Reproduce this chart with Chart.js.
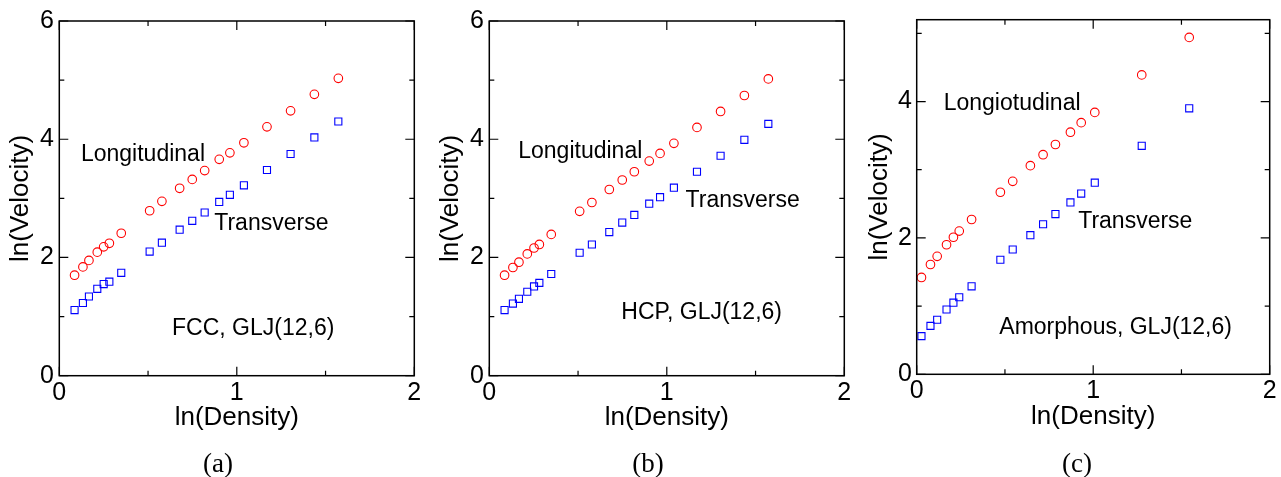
<!DOCTYPE html>
<html>
<head>
<meta charset="utf-8">
<script src="https://cdn.jsdelivr.net/npm/chart.js@4.4.1/dist/chart.umd.min.js"></script>
<style>
  body { margin: 0; background: #fff; overflow: hidden; }
  #wrap { position: relative; width: 1281px; height: 477px; }
  canvas { position: absolute; top: 0; }
  .caption { position: absolute; top: 447px; width: 80px; margin-left: -40px; text-align: center;
             font-family: "Liberation Serif", "DejaVu Serif", serif; font-size: 27px; line-height: 32px; color: #000; }
</style>
</head>
<body>
<div id="wrap">
  <canvas id="panelA" width="430" height="477" style="left:0px"></canvas>
  <canvas id="panelB" width="430" height="477" style="left:430px"></canvas>
  <canvas id="panelC" width="421" height="477" style="left:860px"></canvas>
  <div class="caption" style="left:218px">(a)</div>
  <div class="caption" style="left:648px">(b)</div>
  <div class="caption" style="left:1077px">(c)</div>
</div>
<script>
// ln(density) vs ln(velocity), FCC crystal
var densityA = [0.086, 0.133, 0.167, 0.214, 0.250, 0.282, 0.349, 0.509, 0.578, 0.678, 0.749, 0.819, 0.901, 0.961, 1.040, 1.170, 1.303, 1.437, 1.572];
var longitudinalA = [1.70, 1.84, 1.95, 2.09, 2.18, 2.24, 2.41, 2.79, 2.95, 3.17, 3.32, 3.47, 3.66, 3.77, 3.94, 4.21, 4.48, 4.76, 5.03];
var transverseA = [1.11, 1.23, 1.34, 1.47, 1.55, 1.59, 1.74, 2.10, 2.25, 2.47, 2.62, 2.76, 2.94, 3.06, 3.22, 3.48, 3.75, 4.03, 4.30];

// HCP crystal
var densityB = [0.086, 0.133, 0.167, 0.214, 0.252, 0.282, 0.349, 0.509, 0.578, 0.676, 0.749, 0.817, 0.901, 0.962, 1.040, 1.170, 1.303, 1.437, 1.572];
var longitudinalB = [1.70, 1.83, 1.92, 2.06, 2.16, 2.22, 2.39, 2.78, 2.93, 3.15, 3.31, 3.45, 3.63, 3.76, 3.93, 4.20, 4.47, 4.74, 5.02];
var transverseB = [1.11, 1.22, 1.30, 1.42, 1.51, 1.57, 1.72, 2.08, 2.22, 2.43, 2.59, 2.72, 2.91, 3.02, 3.18, 3.45, 3.72, 3.99, 4.26];

// amorphous solid
var densityC = [0.027, 0.078, 0.116, 0.169, 0.208, 0.241, 0.311, 0.474, 0.544, 0.644, 0.716, 0.786, 0.871, 0.932, 1.009, 1.275, 1.544];
var longitudinalC = [1.42, 1.61, 1.73, 1.90, 2.01, 2.10, 2.27, 2.67, 2.83, 3.06, 3.22, 3.37, 3.55, 3.69, 3.84, 4.39, 4.94];
var transverseC = [0.56, 0.71, 0.80, 0.95, 1.05, 1.13, 1.29, 1.68, 1.83, 2.04, 2.20, 2.35, 2.52, 2.65, 2.81, 3.35, 3.90];

// axis ticks; only the listed majors get a label
var xTicks = [0, 0.5, 1, 1.5, 2];
var xLabels = [0, 1, 2];
var yTicksCrystal = [0, 1, 2, 3, 4, 5, 6];
var yTicksAmorphous = [0, 1, 2, 3, 4, 5];
var yLabels = [0, 2, 4, 6];

var sans = "'Liberation Sans', Arial, sans-serif";

function points(xs, ys) {
  return xs.map(function (x, i) { return { x: x, y: ys[i] }; });
}

// box around the plot with inward ticks on all four sides, plus the text notes
var framePlugin = {
  id: "frame",
  afterDraw: function (chart) {
    var ctx = chart.ctx;
    var a = chart.chartArea;
    var xs = chart.scales.x, ys = chart.scales.y;
    ctx.save();
    ctx.strokeStyle = "#000";
    ctx.lineWidth = 1.5;
    ctx.strokeRect(a.left, a.top, a.right - a.left, a.bottom - a.top);
    ctx.lineWidth = 1.2;
    ctx.beginPath();
    xs.ticks.forEach(function (t) {
      var len = xLabels.indexOf(t.value) >= 0 ? 9 : 5;
      var px = xs.getPixelForValue(t.value);
      ctx.moveTo(px, a.bottom); ctx.lineTo(px, a.bottom - len);
      ctx.moveTo(px, a.top); ctx.lineTo(px, a.top + len);
    });
    ys.ticks.forEach(function (t) {
      var len = yLabels.indexOf(t.value) >= 0 ? 9 : 5;
      var py = ys.getPixelForValue(t.value);
      ctx.moveTo(a.left, py); ctx.lineTo(a.left + len, py);
      ctx.moveTo(a.right, py); ctx.lineTo(a.right - len, py);
    });
    ctx.stroke();

    ctx.fillStyle = "#000";
    ctx.font = "23px " + sans;
    ctx.textAlign = "left";
    ctx.textBaseline = "alphabetic";
    (chart.options.plugins.frame.notes || []).forEach(function (n) {
      ctx.fillText(n.text, xs.getPixelForValue(n.x), ys.getPixelForValue(n.y));
    });
    ctx.restore();
  }
};

function makePanel(id, density, longi, trans, p) {
  var canvas = document.getElementById(id);
  return new Chart(canvas, {
    type: "scatter",
    data: {
      datasets: [
        {
          label: "Longitudinal",
          data: points(density, longi),
          pointStyle: "circle",
          pointRadius: 4.3,
          borderColor: "#ff0000",
          backgroundColor: "rgba(0,0,0,0)",
          borderWidth: 1.1
        },
        {
          label: "Transverse",
          data: points(density, trans),
          pointStyle: "rect",
          pointRadius: 5,
          borderColor: "#0000ff",
          backgroundColor: "rgba(0,0,0,0)",
          borderWidth: 1.1
        }
      ]
    },
    options: {
      responsive: false,
      animation: false,
      devicePixelRatio: 1,
      layout: { padding: p.padding },
      plugins: {
        legend: { display: false },
        tooltip: { enabled: false },
        frame: { notes: p.notes }
      },
      scales: {
        x: {
          type: "linear",
          min: 0,
          max: 2,
          afterBuildTicks: function (s) { s.ticks = xTicks.map(function (v) { return { value: v }; }); },
          afterFit: function (s) { s.height = 60; },
          grid: { display: false, drawTicks: false },
          border: { display: false },
          ticks: {
            autoSkip: false,
            maxRotation: 0,
            padding: 2,
            color: "#000",
            font: { family: sans, size: 25 },
            callback: function (v) { return xLabels.indexOf(v) >= 0 ? String(v) : ""; }
          },
          title: {
            display: true,
            text: "ln(Density)",
            color: "#000",
            font: { family: sans, size: 26 },
            padding: { top: 0, bottom: 2 }
          }
        },
        y: {
          type: "linear",
          min: 0,
          max: p.yMax,
          afterBuildTicks: function (s) { s.ticks = p.yTicks.map(function (v) { return { value: v }; }); },
          afterFit: function (s) { s.width = p.yWidth; },
          grid: { display: false, drawTicks: false },
          border: { display: false },
          ticks: {
            autoSkip: false,
            padding: p.yTickPad,
            color: "#000",
            font: { family: sans, size: 25 },
            callback: function (v) { return yLabels.indexOf(v) >= 0 ? String(v) : ""; }
          },
          title: {
            display: true,
            text: "ln(Velocity)",
            color: "#000",
            font: { family: sans, size: 26 },
            padding: { top: p.yTitlePad, bottom: 0 }
          }
        }
      }
    },
    plugins: [framePlugin]
  });
}

makePanel("panelA", densityA, longitudinalA, transverseA, {
  padding: { top: 21, right: 15.7, bottom: 41.3, left: 0 },
  yMax: 6, yTicks: yTicksCrystal, yWidth: 59.3, yTickPad: 5.3, yTitlePad: 5.7,
  notes: [
    { text: "Longitudinal", x: 0.122, y: 3.63 },
    { text: "Transverse", x: 0.873, y: 2.465 },
    { text: "FCC, GLJ(12,6)", x: 0.635, y: 0.69 }
  ]
});

makePanel("panelB", densityB, longitudinalB, transverseB, {
  padding: { top: 21, right: 15.7, bottom: 41.3, left: 0 },
  yMax: 6, yTicks: yTicksCrystal, yWidth: 59.3, yTickPad: 5.3, yTitlePad: 5.7,
  notes: [
    { text: "Longitudinal", x: 0.163, y: 3.69 },
    { text: "Transverse", x: 1.106, y: 2.86 },
    { text: "HCP, GLJ(12,6)", x: 0.744, y: 0.96 }
  ]
});

makePanel("panelC", densityC, longitudinalC, transverseC, {
  padding: { top: 16.5, right: 11.3, bottom: 42.7, left: 0 },
  yMax: 5.2, yTicks: yTicksAmorphous, yWidth: 56.7, yTickPad: 4.7, yTitlePad: 3.9,
  notes: [
    { text: "Longiotudinal", x: 0.153, y: 3.874 },
    { text: "Transverse", x: 0.915, y: 2.145 },
    { text: "Amorphous, GLJ(12,6)", x: 0.468, y: 0.596 }
  ]
});
</script>
</body>
</html>
